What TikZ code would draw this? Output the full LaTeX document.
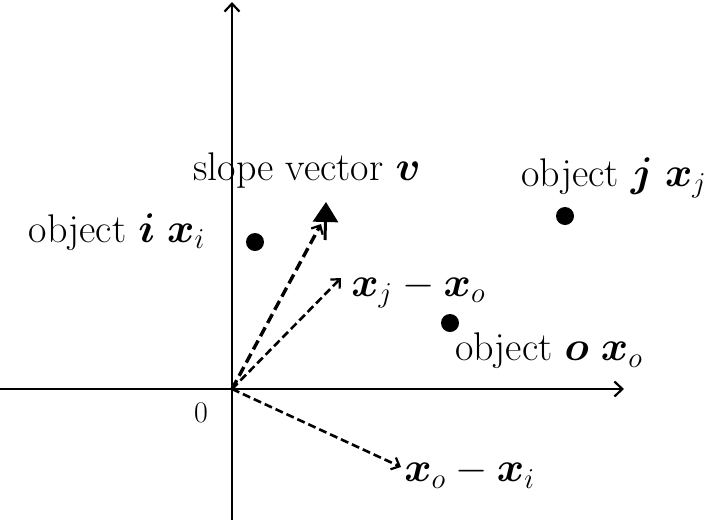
\documentclass[tikz,border=0pt]{standalone}
\usepackage{bm}
\usetikzlibrary{arrows.meta}
\begin{document}
\begin{tikzpicture}[x=1pt,y=-1pt,
  axis/.style={line width=2.2pt,-{Straight Barb[length=8pt,width=15pt,line width=2.2pt]}},
  vec/.style={line width=2.6pt,dash pattern=on 8pt off 4pt,-{Straight Barb[length=7pt,width=13pt,line width=2.2pt]}},
  thickvec/.style={line width=3.4pt,dash pattern=on 10pt off 5pt},
  dot/.style={circle,fill=black,inner sep=0pt,minimum size=18pt},
  lbl/.style={inner sep=0pt,font=\fontsize{20}{24}\selectfont,scale=2}]
\useasboundingbox (0,0) rectangle (710,520);
\coordinate (O) at (232,389);
\coordinate (xl) at (0,389);
\coordinate (xr) at (624,389);
\coordinate (yb) at (232,520);
\coordinate (yt) at (232,2);
\draw[axis] (xl) -- (xr);
\draw[axis] (yb) -- (yt);
% slope vector
\coordinate (s1) at (321,224);
\coordinate (s2) at (325,240);
\coordinate (s3) at (326,202);
\draw[thickvec,-{Straight Barb[length=7pt,width=13pt,line width=2.2pt]}] (O) -- (s1);
\draw[line width=3pt,-{Triangle[length=20pt,width=25pt]}] (s2) -- (s3);
% x_j - x_o
\coordinate (a) at (341,278);
\draw[vec] (O) -- (a);
% x_o - x_i
\coordinate (b) at (401,467);
\draw[vec] (O) -- (b);
% dots
\node[dot] (di) at (255,242) {};
\node[dot] (do) at (450,323) {};
\node[dot] (dj) at (565,216) {};
% labels
\node[lbl] (ls) at (307,171) {slope vector $\bm{v}$};
\node[lbl] (lj) at (614,178) {object $\bm{j}$ $\bm{x}_j$};
\node[lbl] (li) at (117,232) {object $\bm{i}$ $\bm{x}_i$};
\node[lbl] (lo) at (549,351) {object $\bm{o}$ $\bm{x}_o$};
\node[lbl,anchor=west] (la) at (351,290) {$\bm{x}_j-\bm{x}_o$};
\node[lbl,anchor=west] (lb) at (404,473) {$\bm{x}_o-\bm{x}_i$};
\node[inner sep=0pt,font=\fontsize{20}{24}\selectfont,scale=1.5] (l0) at (201,413) {0};
\end{tikzpicture}
\end{document}
